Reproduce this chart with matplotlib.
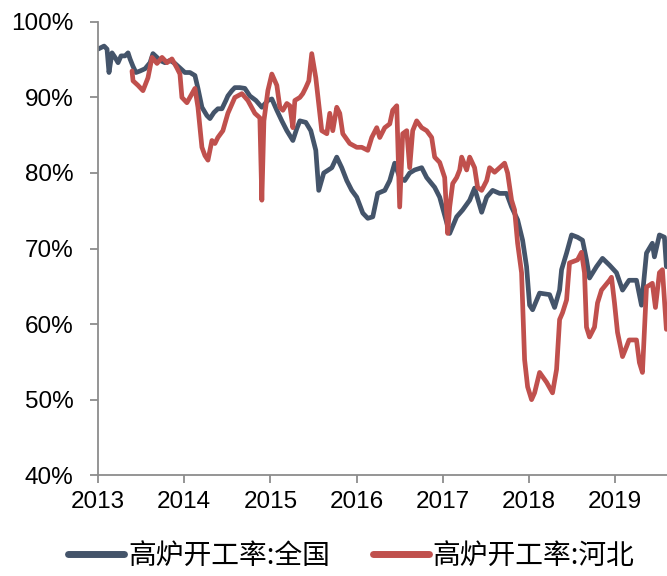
import matplotlib
matplotlib.use("Agg")
import matplotlib.pyplot as plt
from matplotlib.ticker import FuncFormatter

# 高炉开工率:全国 (national)
dates_cn = [2013.00, 2013.035, 2013.07, 2013.104, 2013.127, 2013.162, 2013.197, 2013.232,
            2013.267, 2013.313, 2013.348, 2013.371, 2013.406, 2013.44, 2013.487, 2013.545,
            2013.603, 2013.637, 2013.684, 2013.718, 2013.776, 2013.834, 2013.892, 2013.95,
            2014.008, 2014.066, 2014.124, 2014.159, 2014.205, 2014.263, 2014.298, 2014.344,
            2014.39, 2014.437, 2014.483, 2014.506, 2014.553, 2014.587, 2014.645, 2014.703,
            2014.761, 2014.831, 2014.90, 2014.97, 2015.016, 2015.074, 2015.132, 2015.19,
            2015.26, 2015.306, 2015.341, 2015.41, 2015.468, 2015.526, 2015.56, 2015.618,
            2015.712, 2015.769, 2015.827, 2015.885, 2015.943, 2016.001, 2016.071, 2016.129,
            2016.187, 2016.244, 2016.326, 2016.384, 2016.441, 2016.499, 2016.557, 2016.615,
            2016.673, 2016.754, 2016.812, 2016.905, 2016.963, 2017.021, 2017.079, 2017.16,
            2017.229, 2017.311, 2017.368, 2017.45, 2017.508, 2017.577, 2017.658, 2017.739,
            2017.797, 2017.867, 2017.925, 2017.971, 2018.006, 2018.041, 2018.122, 2018.238,
            2018.296, 2018.354, 2018.377, 2018.435, 2018.493, 2018.562, 2018.62, 2018.666,
            2018.701, 2018.782, 2018.852, 2018.933, 2019.014, 2019.084, 2019.16, 2019.246,
            2019.304, 2019.362, 2019.43, 2019.454, 2019.512, 2019.57, 2019.593]
values_cn = [96.4, 96.6, 96.8, 96.4, 93.3, 95.9, 95.3, 94.6,
             95.5, 95.5, 95.9, 95.1, 94.1, 93.3, 93.5, 93.8,
             94.6, 95.8, 95.3, 94.9, 94.6, 94.9, 94.5, 93.9,
             93.3, 93.3, 92.9, 91.2, 88.7, 87.6, 87.2, 88.0,
             88.5, 88.5, 89.6, 90.2, 90.9, 91.3, 91.3, 91.2,
             90.2, 89.6, 88.7, 89.6, 89.8, 88.3, 86.9, 85.6,
             84.3, 85.9, 86.9, 86.7, 85.6, 83.0, 77.7, 80.0,
             80.7, 82.1, 80.7, 79.0, 77.7, 76.8, 74.7, 74.0,
             74.2, 77.3, 77.7, 79.0, 81.3, 79.4, 79.0, 80.0,
             80.4, 80.7, 79.4, 78.1, 76.8, 74.4, 72.0, 74.2,
             75.1, 76.4, 78.0, 74.8, 76.8, 77.7, 77.3, 77.3,
             75.5, 73.8, 71.1, 67.6, 62.5, 61.9, 64.1, 63.9,
             62.2, 64.5, 67.2, 69.4, 71.8, 71.5, 71.1, 68.5,
             66.1, 67.6, 68.7, 67.8, 66.8, 64.5, 65.8, 65.8,
             62.5, 69.4, 70.7, 68.9, 71.8, 71.5, 67.6]

# 高炉开工率:河北 (Hebei)
dates_hb = [2013.394, 2013.406, 2013.463, 2013.521, 2013.579, 2013.626, 2013.684, 2013.742,
            2013.80, 2013.857, 2013.915, 2013.95, 2013.973, 2014.031, 2014.089, 2014.124,
            2014.159, 2014.205, 2014.24, 2014.275, 2014.321, 2014.356, 2014.39, 2014.448,
            2014.506, 2014.587, 2014.669, 2014.738, 2014.819, 2014.877, 2014.90, 2014.924,
            2014.97, 2015.016, 2015.074, 2015.109, 2015.144, 2015.19, 2015.225, 2015.26,
            2015.283, 2015.341, 2015.375, 2015.41, 2015.445, 2015.479, 2015.526, 2015.56,
            2015.595, 2015.654, 2015.688, 2015.723, 2015.769, 2015.804, 2015.839, 2015.92,
            2016.001, 2016.059, 2016.129, 2016.175, 2016.233, 2016.268, 2016.326, 2016.384,
            2016.418, 2016.465, 2016.499, 2016.534, 2016.581, 2016.615, 2016.65, 2016.696,
            2016.754, 2016.812, 2016.87, 2016.905, 2016.963, 2017.021, 2017.056, 2017.079,
            2017.114, 2017.16, 2017.195, 2017.218, 2017.276, 2017.311, 2017.368, 2017.403,
            2017.45, 2017.508, 2017.542, 2017.60, 2017.658, 2017.716, 2017.751, 2017.797,
            2017.832, 2017.867, 2017.913, 2017.948, 2017.983, 2018.029, 2018.064, 2018.122,
            2018.203, 2018.272, 2018.319, 2018.354, 2018.388, 2018.435, 2018.469, 2018.562,
            2018.608, 2018.643, 2018.666, 2018.701, 2018.759, 2018.794, 2018.84, 2018.933,
            2018.956, 2018.991, 2019.026, 2019.084, 2019.13, 2019.16, 2019.246, 2019.28,
            2019.315, 2019.362, 2019.43, 2019.466, 2019.512, 2019.547, 2019.593]
values_hb = [93.5, 92.2, 91.6, 90.9, 92.6, 95.3, 94.5, 95.3,
             94.6, 95.1, 93.9, 93.1, 90.0, 89.3, 90.5, 91.2,
             88.7, 83.4, 82.3, 81.7, 84.3, 83.9, 84.7, 85.6,
             87.9, 90.0, 90.5, 89.6, 87.9, 87.3, 76.4, 86.9,
             90.9, 93.1, 91.6, 88.7, 88.3, 89.2, 88.9, 86.0,
             89.6, 90.0, 90.5, 91.3, 92.2, 95.8, 92.6, 89.2,
             85.6, 85.2, 87.9, 85.6, 88.7, 87.9, 85.2, 83.9,
             83.4, 83.4, 83.0, 84.7, 86.0, 84.7, 86.0, 86.5,
             88.3, 88.9, 75.5, 85.2, 85.6, 80.7, 85.6, 86.9,
             86.0, 85.6, 84.7, 82.1, 81.4, 79.4, 72.0, 75.5,
             78.6, 79.4, 80.4, 82.1, 80.4, 82.1, 80.7, 78.1,
             77.7, 79.0, 80.7, 80.1, 80.7, 81.3, 80.0, 76.4,
             75.1, 70.7, 66.8, 55.3, 51.7, 50.0, 50.9, 53.6,
             52.3, 50.9, 54.0, 60.6, 61.5, 63.2, 68.1, 68.5,
             69.5, 66.8, 59.6, 58.3, 59.6, 62.8, 64.5, 65.8,
             66.2, 62.8, 58.9, 55.7, 57.0, 57.9, 57.9, 54.9,
             53.6, 64.9, 65.4, 62.2, 66.8, 67.2, 59.3]

year_ticks = [2013, 2014, 2015, 2016, 2017, 2018, 2019]
pct_ticks = [40, 50, 60, 70, 80, 90, 100]
series_labels = ["高炉开工率:全国", "高炉开工率:河北"]

plt.rcParams['font.family'] = ['Liberation Sans', 'Noto Sans CJK SC', 'DejaVu Sans']

fig = plt.figure(figsize=(6.67, 5.76), dpi=100)
ax = fig.add_axes([0.147, 0.175, 0.853, 0.787])

ax.plot(dates_cn, values_cn, color='#44546A', lw=3.4, solid_joinstyle='round',
        solid_capstyle='round', label=series_labels[0])
ax.plot(dates_hb, values_hb, color='#C0504D', lw=3.4, solid_joinstyle='round',
        solid_capstyle='round', label=series_labels[1])

ax.set_xlim(2013, 2019.6)
ax.set_ylim(40, 100)
ax.set_xticks(year_ticks)
ax.set_xticklabels([str(y) for y in year_ticks])
ax.set_yticks(pct_ticks)
ax.yaxis.set_major_formatter(FuncFormatter(lambda v, p: f"{int(v)}%"))

for s in ['top', 'right']:
    ax.spines[s].set_visible(False)
for s in ['left', 'bottom']:
    ax.spines[s].set_color('#8C8C8C')
    ax.spines[s].set_linewidth(1.3)

ax.tick_params(axis='both', colors='#8C8C8C', labelcolor='black', labelsize=17.5,
               width=1.3, length=5.5, direction='out')
ax.tick_params(axis='y', pad=12)
ax.tick_params(axis='x', pad=6)

leg = fig.legend(loc='center', bbox_to_anchor=(0.527, 0.035), ncol=2, frameon=False,
                 prop={'family': ['Noto Sans CJK SC', 'DejaVu Sans'], 'size': 20},
                 handlelength=2.0, handletextpad=0.15, columnspacing=1.55)
for h in leg.legend_handles:
    h.set_linewidth(5)
    h.set_solid_capstyle('round')

fig.savefig('out.png', dpi=100)
